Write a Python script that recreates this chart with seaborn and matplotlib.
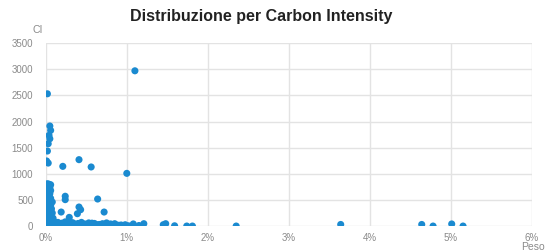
import matplotlib
matplotlib.use("Agg")
import matplotlib.pyplot as plt
import seaborn as sns
import pandas as pd
from matplotlib.ticker import FuncFormatter

# peso (% of portfolio) and carbon intensity
peso_cluster = [0.02, 0.04, 0.06, 0.03, 0.05, 0.02, 0.04, 0.06, 0.03, 0.05,
                0.02, 0.04, 0.03, 0.06, 0.02, 0.05, 0.08, 0.03, 0.02, 0.06,
                0.04, 0.03, 0.07, 0.02, 0.05, 0.03, 0.08, 0.02, 0.04, 0.06,
                0.03, 0.09, 0.02, 0.05, 0.07, 0.03, 0.10, 0.02, 0.06, 0.12,
                0.04, 0.08, 0.02, 0.15, 0.05, 0.03, 0.10, 0.01, 0.06, 0.02,
                0.08, 0.04]
ci_cluster = [810, 800, 790, 760, 740, 720, 700, 680, 650, 620,
              600, 580, 550, 530, 500, 480, 460, 450, 420, 400,
              380, 350, 330, 310, 290, 270, 250, 230, 210, 190,
              170, 150, 140, 120, 110, 95, 90, 80, 70, 60,
              55, 45, 40, 35, 30, 20, 15, 10, 5, 0,
              0, 8]

peso_band = [0.12, 0.15, 0.18, 0.20, 0.22, 0.25, 0.27, 0.30, 0.32, 0.35,
             0.37, 0.40, 0.42, 0.45, 0.48, 0.50, 0.53, 0.55, 0.58, 0.60,
             0.63, 0.66, 0.70, 0.73, 0.76, 0.80, 0.83, 0.86, 0.90, 0.93,
             0.96, 0.98, 1.02, 0.14, 0.17, 0.24, 0.28, 0.33, 0.38, 0.44,
             0.52, 0.57, 0.62, 0.68, 0.75, 0.85, 0.10, 0.13]
ci_band = [40, 70, 20, 55, 10, 35, 60, 25, 5, 45,
           15, 50, 30, 8, 40, 20, 60, 10, 35, 50,
           15, 30, 45, 10, 25, 40, 5, 30, 15, 20,
           8, 25, 5, 5, 45, 80, 0, 65, 30, 70,
           0, 55, 30, 5, 60, 45, 25, 20]

peso_other = [1.10, 0.02, 0.05, 0.06, 0.04, 0.05, 0.03, 0.02, 0.01, 0.03,
              0.21, 0.41, 0.56, 1.00, 0.24, 0.24, 0.64, 0.19, 0.41, 0.43,
              0.39, 0.29, 0.72, 1.08, 1.15, 1.21, 1.45, 1.48, 1.59, 1.74,
              1.81, 2.35, 3.64, 4.64, 4.78, 5.01, 5.15]
ci_other = [2970, 2530, 1914, 1830, 1735, 1670, 1575, 1435, 1245, 1205,
            1142, 1270, 1130, 1008, 570, 505, 517, 268, 364, 313,
            236, 166, 268, 40, 10, 45, 25, 45, 5, 0,
            0, 0, 30, 30, 0, 40, 0]

df = pd.DataFrame({
    "peso": peso_cluster + peso_band + peso_other,
    "ci": ci_cluster + ci_band + ci_other,
})

sns.set_theme(style="whitegrid")
plt.rcParams["font.family"] = ["Liberation Sans", "DejaVu Sans"]

fig = plt.figure(figsize=(5.45, 2.52), dpi=100)
ax = fig.add_axes([0.084, 0.103, 0.892, 0.726])

sns.scatterplot(data=df, x="peso", y="ci", ax=ax, color="#1a8ad0",
                s=26, edgecolor="none", linewidth=0, zorder=3)

ax.set_xlim(0, 6)
ax.set_ylim(0, 3500)
ax.set_xticks(range(0, 7))
ax.set_yticks(range(0, 3501, 500))
ax.xaxis.set_major_formatter(FuncFormatter(lambda v, p: f"{int(v)}%"))
ax.grid(True, color="#e3e3e3", linewidth=1)
for s in ax.spines.values():
    s.set_visible(False)
ax.tick_params(axis="both", labelsize=7, colors="#8a8a8a", length=0)
ax.tick_params(axis="y", pad=9)
ax.tick_params(axis="x", pad=5)
ax.set_xlabel("")
ax.set_ylabel("")

fig.text(0.07, 0.882, "CI", fontsize=7.5, color="#8a8a8a", ha="center", va="center")
fig.text(0.977, 0.02, "Peso", fontsize=7.5, color="#8a8a8a", ha="center", va="center")
fig.suptitle("Distribuzione per Carbon Intensity", x=0.48, y=0.965,
             fontsize=11.5, fontweight="bold", color="#222222")

fig.savefig("out.png", dpi=100)
